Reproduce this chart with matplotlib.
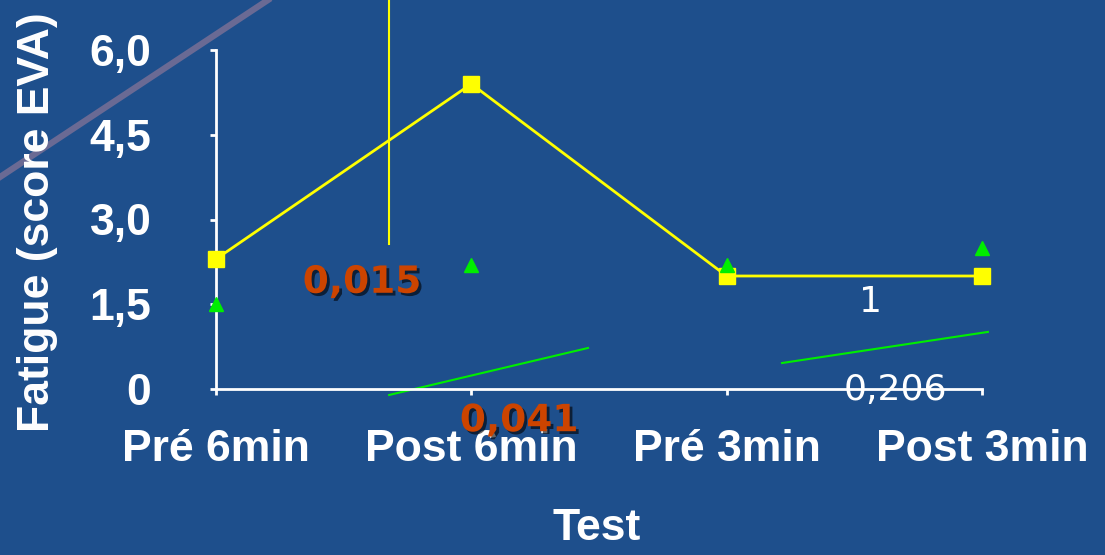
import matplotlib
matplotlib.use("Agg")
import matplotlib.pyplot as plt
import matplotlib.patheffects as pe
from matplotlib.lines import Line2D

# data
tests = ["Pré 6min", "Post 6min", "Pré 3min", "Post 3min"]
fatigue_a = [2.3, 5.4, 2.0, 2.0]   # yellow squares
fatigue_b = [1.5, 2.2, 2.2, 2.5]   # green triangles
yticks = [0, 1.5, 3.0, 4.5, 6.0]
ytick_labels = ["0", "1,5", "3,0", "4,5", "6,0"]

# p-value annotations (label, x, y)
pvals_orange = [("0,015", 0.572, 1.88), ("0,041", 1.187, -0.57)]
pvals_white = [("1", 2.565, 1.54), ("0,206", 2.66, -0.02)]

# connector lines drawn on the slide (data coords)
yellow_bar_x = [0.678, 0.678]
yellow_bar_y = [2.57, 7.0]
green_seg1_x = [0.678, 1.457]
green_seg1_y = [-0.106, 0.726]
green_seg2_x = [2.217, 3.023]
green_seg2_y = [0.46, 1.01]

BG = "#1e4f8c"
W, H = 1105, 555

fig = plt.figure(figsize=(W / 100, H / 100), dpi=100, facecolor=BG)
ax = fig.add_axes([216 / W, 1 - 389 / H, (982 - 216) / W, (389 - 50) / H])
ax.set_facecolor("none")

x = list(range(len(tests)))
ax.plot(x, fatigue_a, color="#ffff00", lw=2, marker="s", ms=11, clip_on=False, zorder=4)
ax.plot(x, fatigue_b, ls="none", color="#00ee00", marker="^", ms=10, clip_on=False, zorder=4)

ax.plot(yellow_bar_x, yellow_bar_y, color="#ffff00", lw=1.5, clip_on=False)
ax.plot(green_seg1_x, green_seg1_y, color="#00ee00", lw=1.5, clip_on=False)
ax.plot(green_seg2_x, green_seg2_y, color="#00ee00", lw=1.5, clip_on=False)

ax.set_xlim(0, 3)
ax.set_ylim(0, 6)
ax.set_xticks(x)
ax.set_xticklabels(tests)
ax.set_yticks(yticks)
ax.set_yticklabels(ytick_labels)

for side in ["top", "right"]:
    ax.spines[side].set_visible(False)
for side in ["left", "bottom"]:
    ax.spines[side].set_color("white")
    ax.spines[side].set_linewidth(2)

ax.tick_params(axis="both", colors="white", width=2, length=4.5, direction="out")
ax.tick_params(axis="x", pad=24)
ax.tick_params(axis="y", pad=42)
for lab in ax.get_xticklabels() + ax.get_yticklabels():
    lab.set_fontfamily("Liberation Sans")
    lab.set_fontweight("bold")
    lab.set_fontsize(32)

shadow = [pe.withSimplePatchShadow(offset=(2, -2), shadow_rgbFace="black", alpha=0.6)]
for txt, tx, ty in pvals_orange:
    ax.text(tx, ty, txt, color="#cc4400", fontsize=27, fontweight="bold",
            fontfamily="DejaVu Sans", ha="center", va="center",
            path_effects=shadow, clip_on=False, zorder=5)
for txt, tx, ty in pvals_white:
    ax.text(tx, ty, txt, color="white", fontsize=26, fontfamily="DejaVu Sans",
            ha="center", va="center", clip_on=False, zorder=5)

fig.text(38 / W, 1 - 222 / H, "Fatigue (score EVA)", rotation=90, color="white",
         fontsize=32, fontweight="bold", fontfamily="Liberation Sans",
         ha="center", va="center")
fig.text(597 / W, 1 - 528 / H, "Test", color="white", fontsize=32,
         fontweight="bold", fontfamily="Liberation Sans", ha="center", va="center")

# slide decoration line in the top-left corner
deco_x = [0, 268 / W]
deco_y = [1 - 177 / H, 1]
fig.add_artist(Line2D(deco_x, deco_y, color="#6a6a94", lw=4.5, transform=fig.transFigure))

fig.savefig("out.png", dpi=100, facecolor=BG)
